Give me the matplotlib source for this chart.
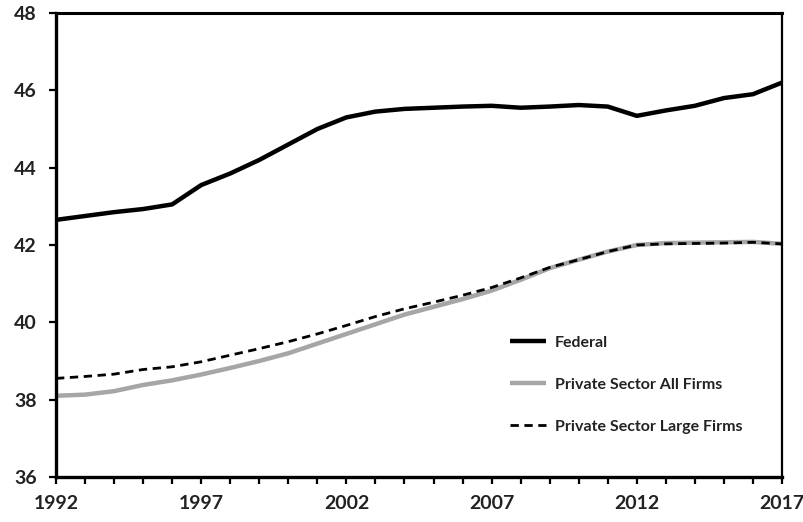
import matplotlib
matplotlib.use("Agg")
import matplotlib.pyplot as plt
from matplotlib.ticker import MultipleLocator

years = list(range(1992, 2018))
federal = [42.65, 42.75, 42.85, 42.93, 43.05, 43.55, 43.85, 44.2, 44.6, 45.0,
           45.3, 45.45, 45.52, 45.55, 45.58, 45.6, 45.55, 45.58, 45.62, 45.58,
           45.34, 45.48, 45.6, 45.8, 45.9, 46.2]
private_all = [38.1, 38.13, 38.22, 38.38, 38.5, 38.65, 38.82, 39.0, 39.2, 39.45,
               39.7, 39.95, 40.2, 40.4, 40.6, 40.82, 41.1, 41.4, 41.62, 41.83,
               42.0, 42.05, 42.06, 42.07, 42.08, 42.03]
private_large = [38.55, 38.6, 38.66, 38.78, 38.85, 38.98, 39.15, 39.32, 39.5, 39.7,
                 39.92, 40.15, 40.35, 40.52, 40.7, 40.9, 41.15, 41.42, 41.62, 41.83,
                 42.0, 42.03, 42.04, 42.05, 42.07, 42.03]
series_labels = ["Federal", "Private Sector All Firms", "Private Sector Large Firms"]
x_major = [1992, 1997, 2002, 2007, 2012, 2017]
y_ticks = [36, 38, 40, 42, 44, 46, 48]

plt.rcParams['font.family'] = ['Lato', 'DejaVu Sans']
plt.rcParams['font.weight'] = 'bold'

fig = plt.figure(figsize=(8.04, 5.22), dpi=100)
ax = fig.add_axes([56/804, 1-477/522, (782-56)/804, (477-13)/522])

ax.plot(years, private_all, color='#a6a6a6', lw=3.2, label=series_labels[1],
        solid_capstyle='butt', solid_joinstyle='round', zorder=2)
ax.plot(years, private_large, color='black', lw=2.0, ls=(0, (3, 2)), label=series_labels[2], zorder=3)
ax.plot(years, federal, color='black', lw=3.2, label=series_labels[0],
        solid_capstyle='butt', solid_joinstyle='round', zorder=4)

ax.set_xlim(1992, 2017)
ax.set_ylim(36, 48)
ax.set_xticks(x_major)
ax.xaxis.set_minor_locator(MultipleLocator(1))
ax.set_yticks(y_ticks)

for s in ['left', 'bottom']:
    ax.spines[s].set_linewidth(2.4)
ax.spines['top'].set_linewidth(2.2)
ax.spines['right'].set_linewidth(1.6)

ax.tick_params(axis='both', which='both', direction='out', length=5, width=1.6,
               labelsize=14, labelcolor='#222222')
ax.tick_params(axis='x', which='major', pad=8)
ax.tick_params(axis='y', which='major', pad=9)
for lab in ax.get_xticklabels() + ax.get_yticklabels():
    lab.set_fontweight('bold')

h, l = ax.get_legend_handles_labels()
order = [2, 0, 1]
leg = ax.legend([h[i] for i in order], [l[i] for i in order], loc='upper left',
                bbox_to_anchor=(0.615, 0.322), frameon=False, fontsize=11.5,
                handlelength=2.2, handletextpad=0.6, labelspacing=1.75, borderpad=0)
for t in leg.get_texts():
    t.set_color('#222222')
    t.set_fontweight('bold')

fig.savefig('out.png', dpi=100)
